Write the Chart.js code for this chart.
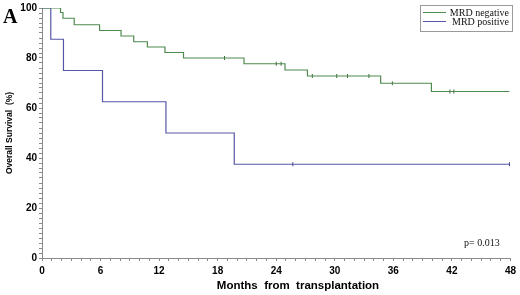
<!DOCTYPE html>
<html>
<head>
<meta charset="utf-8">
<script src="https://cdn.jsdelivr.net/npm/chart.js@4/dist/chart.umd.min.js"></script>
<style>
  html, body { margin: 0; padding: 0; background: #fff; }
  #wrap { width: 520px; height: 295px; position: relative; }
</style>
</head>
<body>
<div id="wrap"><canvas id="chart" width="520" height="295"></canvas></div>
<script>
// Kaplan-Meier steps (months, survival %)
var negMonths = [0, 1.9, 2.15, 3.3, 5.9, 8.1, 9.4, 10.8, 12.6, 14.5, 20.7, 24.9, 27.2, 34.7, 39.9, 47.9];
var negSurv = [100, 98.2, 95.9, 93.3, 91.0, 88.8, 86.5, 84.4, 82.2, 80.0, 77.7, 75.2, 72.8, 69.9, 66.6, 66.6];
var posMonths = [0, 0.9, 2.2, 6.2, 12.7, 19.7, 47.9];
var posSurv = [100, 87.5, 75, 62.5, 50, 37.5, 37.5];
// censored observations (tick marks)
var negCensor = [18.7, 24.0, 24.5, 27.7, 30.2, 31.3, 33.5, 35.9, 41.8, 42.2];
var posCensor = [25.7, 47.9];
var seriesNames = ['MRD negative', 'MRD positive'];
var xTickLabels = [0, 6, 12, 18, 24, 30, 36, 42, 48];
var yTickLabels = [0, 20, 40, 60, 80, 100];
var xTitle = 'Months  from  transplantation';
var pValue = 'p= 0.013';

var green = '#4f8a4f';
var blue = '#5656a8';

function pts(xs, ys) {
  return xs.map(function (x, i) { return { x: x, y: ys[i] }; });
}
// survival level at time t (for placing censor ticks on the curve)
function levelAt(xs, ys, t) {
  var v = ys[0];
  for (var i = 0; i < xs.length; i++) { if (xs[i] <= t) v = ys[i]; }
  return v;
}
function censorPts(cs, xs, ys) {
  return cs.map(function (t) { return { x: t, y: levelAt(xs, ys, t) }; });
}

var extras = {
  id: 'extras',
  afterDraw: function (chart) {
    var c = chart.ctx;
    c.save();
    // panel letter
    c.fillStyle = '#000';
    c.font = 'bold 20px "Liberation Serif", serif';
    c.textBaseline = 'alphabetic';
    c.textAlign = 'left';
    c.fillText('A', 3, 23);
    // x axis title (sits a bit right of centre in the original)
    c.textAlign = 'center';
    c.font = 'bold 11.5px "Liberation Sans", Arial, sans-serif';
    c.fillText(xTitle, 298, 289);
    // legend box
    c.strokeStyle = '#9a9a9a';
    c.lineWidth = 1;
    c.strokeRect(420.5, 5.5, 92, 26);
    var cols = [green, blue];
    c.font = '10px "Liberation Serif", serif';
    c.textAlign = 'right';
    for (var i = 0; i < 2; i++) {
      var ly = 12.5 + i * 9;
      c.strokeStyle = cols[i];
      c.beginPath();
      c.moveTo(423, ly);
      c.lineTo(446, ly);
      c.stroke();
      c.fillStyle = '#111';
      c.fillText(seriesNames[i], 509, ly + 3.5);
    }
    // p-value
    c.textAlign = 'left';
    c.font = '10px "Liberation Serif", serif';
    c.fillText(pValue, 464, 246);
    c.restore();
  }
};

var ctx = document.getElementById('chart').getContext('2d');
var chart = new Chart(ctx, {
  type: 'scatter',
  data: {
    datasets: [{
      label: seriesNames[0],
      data: pts(negMonths, negSurv),
      showLine: true,
      stepped: 'before',
      borderColor: green,
      borderWidth: 1.2,
      pointRadius: 0,
      fill: false
    }, {
      label: seriesNames[1],
      data: pts(posMonths, posSurv),
      showLine: true,
      stepped: 'before',
      borderColor: blue,
      borderWidth: 1.2,
      pointRadius: 0,
      fill: false
    }, {
      data: censorPts(negCensor, negMonths, negSurv),
      showLine: false,
      pointStyle: 'line',
      rotation: 90,
      pointRadius: 2,
      borderColor: '#3c6a3c',
      borderWidth: 1
    }, {
      data: censorPts(posCensor, posMonths, posSurv),
      showLine: false,
      pointStyle: 'line',
      rotation: 90,
      pointRadius: 2,
      borderColor: '#40408a',
      borderWidth: 1
    }]
  },
  options: {
    responsive: false,
    animation: false,
    layout: { padding: { top: 6, right: 7, left: 0, bottom: 0 } },
    plugins: { legend: { display: false }, tooltip: { enabled: false } },
    scales: {
      x: {
        type: 'linear',
        min: 0,
        max: 48,
        afterFit: function (s) { s.height = 37; },
        border: { color: '#8a8a8a', width: 1 },
        grid: { drawOnChartArea: false, tickLength: 3, color: '#8a8a8a' },
        ticks: {
          stepSize: 1,
          maxTicksLimit: 100,
          autoSkip: false,
          maxRotation: 0,
          padding: 4,
          color: '#000',
          font: { family: '"Liberation Sans", Arial, sans-serif', size: 10, weight: 'bold' },
          callback: function (v) { return xTickLabels.indexOf(v) >= 0 ? String(v) : ''; }
        },
        title: { display: false }
      },
      y: {
        min: 0,
        max: 100,
        afterFit: function (s) { s.width = 42; },
        border: { color: '#8a8a8a', width: 1 },
        grid: { drawOnChartArea: false, tickLength: 3, color: '#8a8a8a' },
        ticks: {
          stepSize: 2,
          maxTicksLimit: 100,
          autoSkip: false,
          padding: 2,
          color: '#000',
          font: { family: '"Liberation Sans", Arial, sans-serif', size: 10, weight: 'bold' },
          callback: function (v) { return yTickLabels.indexOf(v) >= 0 ? String(v) : ''; }
        },
        title: {
          display: true,
          text: 'Overall Survival  (%)',
          color: '#000',
          padding: { top: 5, bottom: 0 },
          font: { family: '"Liberation Sans", Arial, sans-serif', size: 8.5, weight: 'bold' }
        }
      }
    }
  },
  plugins: [extras]
});
</script>
</body>
</html>
